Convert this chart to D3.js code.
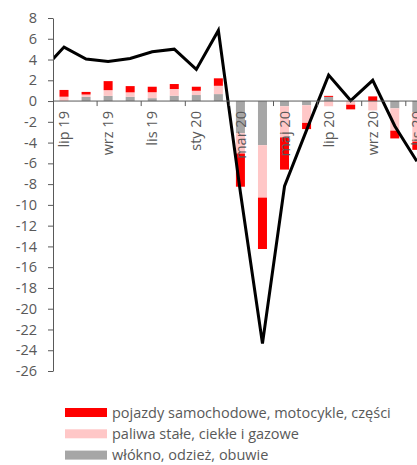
<!DOCTYPE html>
<html><head><meta charset="utf-8">
<script src="https://cdnjs.cloudflare.com/ajax/libs/d3/7.8.5/d3.min.js"></script>
<style>
html,body{margin:0;padding:0;background:#fff;}
svg{display:block;font-family:"Open Sans",sans-serif;}
</style></head>
<body><svg id="c" width="417" height="465"></svg>
<script>
const months = ["cze 19","lip 19","sie 19","wrz 19","paź 19","lis 19","gru 19","sty 20","lut 20","mar 20","kwi 20","maj 20","cze 20","lip 20","sie 20","wrz 20","paź 20","lis 20"];
const labeledMonths = ["lip 19","wrz 19","lis 19","sty 20","mar 20","maj 20","lip 20","wrz 20","lis 20"];
const seriesNames = ["włókno, odzież, obuwie","paliwa stałe, ciekłe i gazowe","pojazdy samochodowe, motocykle, części"];
const seriesColors = ["#a6a6a6","#ffc7c7","#ff0000"];
const wlokno  = [null, 0.0, 0.4, 0.5, 0.41, 0.28, 0.51, 0.58, 0.67, -3.1, -4.25, -0.5, -0.4, 0.4, 0.0, 0.0, -0.7, -1.1];
const paliwa  = [null, 0.42, 0.23, 0.55, 0.43, 0.57, 0.65, 0.41, 0.8, -1.95, -5.05, -3.0, -1.7, -0.5, -0.35, -0.9, -2.15, -2.8];
const pojazdy = [null, 0.65, 0.25, 0.87, 0.6, 0.53, 0.48, 0.39, 0.72, -3.2, -4.95, -3.1, -0.6, 0.1, -0.45, 0.45, -0.75, -0.8];
const total   = [2.9, 5.2, 4.05, 3.8, 4.1, 4.75, 5.0, 3.05, 6.8, -8.8, -23.35, -8.2, -2.8, 2.5, 0.05, 2.0, -2.4, -5.8];
const yTicks = d3.range(-26, 9, 2);

const svg = d3.select("#c");
const mLeft = 53, mTop = 18, mBottom = 371, bw = 22.05;
const x = d3.scaleBand().domain(months).range([mLeft - bw, mLeft - bw + bw*months.length]);
const y = d3.scaleLinear().domain([-26, 8]).range([mBottom, mTop]);
const ink = "#595959";
const fs = 14.5;

svg.append("defs").append("clipPath").attr("id","clip")
  .append("rect").attr("x", mLeft).attr("y", 0).attr("width", 417-mLeft).attr("height", 400);

const rows = months.map((m,i)=>({m, a: wlokno[i]||0, b: paliwa[i]||0, c: pojazdy[i]||0}));
const stack = d3.stack().keys(["a","b","c"]).offset(d3.stackOffsetDiverging)(rows.filter(r=>r.m!=="cze 19"));

const plot = svg.append("g").attr("clip-path","url(#clip)");
const barW = 9;
stack.forEach((s, k) => {
  plot.append("g").attr("fill", seriesColors[k]).selectAll("rect").data(s).join("rect")
    .attr("x", d => x(d.data.m) + (x.bandwidth()-barW)/2)
    .attr("width", barW)
    .attr("y", d => y(Math.max(d[0], d[1])))
    .attr("height", d => Math.abs(y(d[0]) - y(d[1])));
});

// x axis
const xa = svg.append("g").attr("clip-path","url(#clip)");
xa.append("line").attr("x1", mLeft).attr("x2", 417).attr("y1", y(0)).attr("y2", y(0))
  .attr("stroke", ink).attr("stroke-width", 1);
xa.selectAll("line.t").data(labeledMonths).join("line").attr("class","t")
  .attr("x1", d => x(d)).attr("x2", d => x(d))
  .attr("y1", y(0)).attr("y2", y(0)+5).attr("stroke", ink);
xa.selectAll("text").data(labeledMonths).join("text")
  .attr("transform", d => `translate(${x(d)+x.bandwidth()/2},${y(0)+10}) rotate(-90)`)
  .attr("text-anchor","end").attr("dy","0.35em")
  .attr("fill", ink).attr("font-size", fs).text(d => d);

// y axis
const ya = svg.append("g").attr("transform", `translate(${mLeft},0)`)
  .call(d3.axisLeft(y).tickValues(yTicks).tickSize(5).tickSizeOuter(0).tickPadding(11).tickFormat(d3.format("d")));
ya.select(".domain").attr("stroke", ink);
ya.selectAll(".tick line").attr("stroke", ink);
ya.selectAll(".tick text").attr("fill", ink).attr("font-size", fs).attr("font-family", "Open Sans").text(d => String(d));

// line
const line = d3.line().x((d,i) => x(months[i]) + x.bandwidth()/2).y(d => y(d));
plot.append("path").datum(total).attr("d", line).attr("fill","none")
  .attr("stroke","#000").attr("stroke-width",3).attr("stroke-linejoin","miter");

// legend
const lg = svg.append("g");
const legendOrder = [2,1,0];
legendOrder.forEach((k, r) => {
  const yy = 408 + r*21.3;
  lg.append("rect").attr("x", 65).attr("y", yy).attr("width", 42).attr("height", 9).attr("fill", seriesColors[k]);
  lg.append("text").attr("x", 112).attr("y", yy + 9.5).attr("fill", ink).attr("font-size", fs).text(seriesNames[k]);
});
</script></body></html>
